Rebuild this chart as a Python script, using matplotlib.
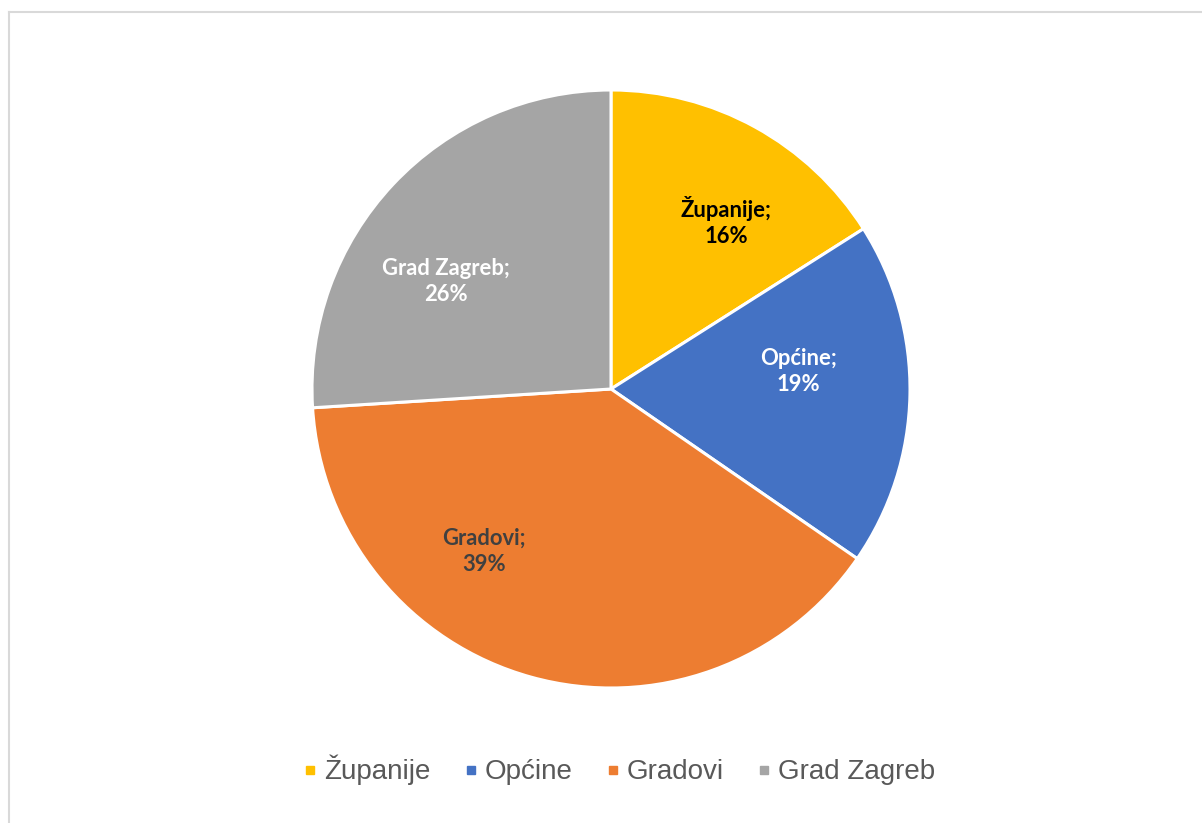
import numpy as np
import matplotlib.pyplot as plt
from matplotlib.lines import Line2D

# data
labels = ['Županije', 'Općine', 'Gradovi', 'Grad Zagreb']
shares = [16.0, 18.6, 39.4, 26.0]
colors = ['#FFC000', '#4472C4', '#ED7D31', '#A5A5A5']
label_colors = ['black', 'white', '#404040', 'white']
# label anchor (fraction of radius, angle in degrees) as placed in the original
label_pos = [(0.68, 55.4), (0.63, 5.2), (0.69, -128.0), (0.66, 147.0)]

W, H = 1202, 823
fig = plt.figure(figsize=(W / 100, H / 100), dpi=100)

# pie centred at (611, 389) px with radius 299 px
cx, cy, R = 611, 389, 299
lim = 1.03
side = 2 * lim * R
ax = fig.add_axes([(cx - lim * R) / W, (H - cy - lim * R) / H, side / W, side / H])

wedges, _ = ax.pie(shares, colors=colors, startangle=90, counterclock=False,
                   wedgeprops=dict(edgecolor='white', linewidth=2.2))
ax.set_xlim(-lim, lim)
ax.set_ylim(-lim, lim)
ax.set_aspect('equal')
ax.axis('off')

for lab, val, col, (r, ang) in zip(labels, shares, label_colors, label_pos):
    a = np.deg2rad(ang)
    ax.text(r * np.cos(a), r * np.sin(a), f'{lab};\n{round(val):.0f}%',
            ha='center', va='center', color=col, fontsize=15.8,
            fontweight='bold', family='Lato', linespacing=1.3)

# legend
handles = [Line2D([], [], marker='s', linestyle='none', markersize=6,
                  markerfacecolor=c, markeredgecolor=c) for c in colors]
fig.legend(handles, labels, loc='center', ncol=4, frameon=False,
           bbox_to_anchor=(619 / W, 1 - 770 / H),
           labelcolor='#595959', handlelength=0.5, handletextpad=0.25,
           columnspacing=1.2, prop={'family': 'Liberation Sans', 'size': 20})

# light frame on top and left
fig.add_artist(Line2D([9 / W, 1], [1 - 11.5 / H, 1 - 11.5 / H], color='#d9d9d9',
                      linewidth=1.5, transform=fig.transFigure))
fig.add_artist(Line2D([9 / W, 9 / W], [0, 1 - 11.5 / H], color='#d9d9d9',
                      linewidth=1.5, transform=fig.transFigure))

fig.savefig('out.png', dpi=100, facecolor='white')
